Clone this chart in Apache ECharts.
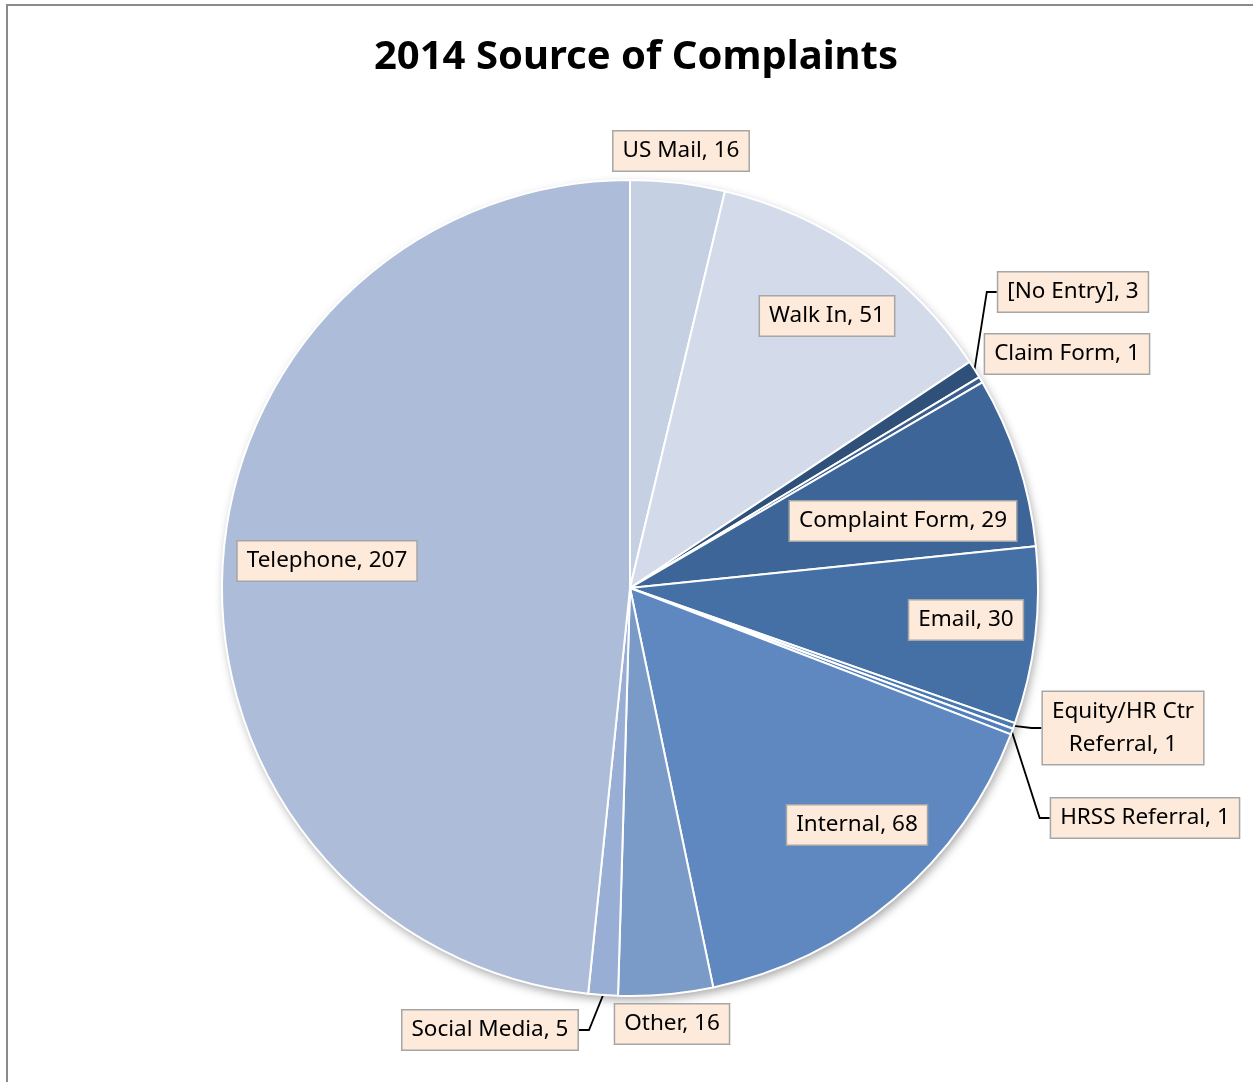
<!DOCTYPE html>
<html>
<head>
<meta charset="utf-8">
<script src="https://cdn.jsdelivr.net/npm/echarts@6/dist/echarts.min.js"></script>
<style>
html,body{margin:0;padding:0;background:#fff;}
#frame{position:absolute;left:6px;top:4px;width:1300px;height:1200px;border-left:2px solid #8a8a8a;border-top:2px solid #8a8a8a;}
#chart{position:absolute;left:0;top:0;width:1253px;height:1082px;}
</style>
</head>
<body>
<div id="frame"></div>
<div id="chart"></div>
<script>
var categories = ["US Mail","Walk In","[No Entry]","Claim Form","Complaint Form","Email","Equity/HR Ctr\nReferral","HRSS Referral","Internal","Other","Social Media","Telephone"];
var values = [16,51,3,1,29,30,1,1,68,16,5,207];
var colors = ["#C5D0E3","#D3DAE9","#2F5179","#3A5F8E","#3E6598","#4470A5","#4A78B0","#5280BD","#5F88C1","#7A9AC8","#98AED5","#ADBCD9"];
var showLine = [false,false,true,false,false,false,true,true,false,false,true,false];
// label box centres (layout only)
var labelPos = [[681,151],[827,316],[1073,292],[1067,354],[903,521],[966,620],[1123,728],[1145,818],[857,825],[672,1024],[490,1030],[327,561]];

var data = categories.map(function(c,i){
  return {name:c, value:values[i], itemStyle:{color:colors[i]}, labelLine:{show:showLine[i]}};
});

var chart = echarts.init(document.getElementById('chart'));
chart.setOption({
  animation:false,
  title:{text:'2014 Source of Complaints',left:631,top:33,textAlign:'center',
    textStyle:{fontFamily:'Noto Sans',fontWeight:'bold',fontSize:40,color:'#000'}},
  series:[
    {type:'pie',center:[630,588],radius:408,silent:true,z:1,
     label:{show:false},labelLine:{show:false},
     data:[{value:1,itemStyle:{color:'#fff',shadowBlur:10,shadowOffsetX:2,shadowOffsetY:4,shadowColor:'rgba(0,0,0,0.35)'}}]},
    {type:'pie',center:[630,588],radius:408,startAngle:90,clockwise:true,z:2,
     avoidLabelOverlap:false,
     itemStyle:{borderColor:'#fff',borderWidth:2},
     label:{show:true,position:'outside',formatter:function(p){return p.name+', '+p.value;},
       fontFamily:'Noto Sans',fontSize:22.5,color:'#000',lineHeight:33,
       backgroundColor:'#FDEADA',borderColor:'#A6A6A6',borderWidth:1.5,padding:[3,9,3,9],align:'center'},
     labelLine:{lineStyle:{color:'#000',width:1.8},length:10,length2:10},
     labelLayout:function(p){var q=labelPos[p.dataIndex];return {x:q[0],y:q[1],align:'center',verticalAlign:'middle'};},
     data:data}
  ]
});
</script>
</body>
</html>
